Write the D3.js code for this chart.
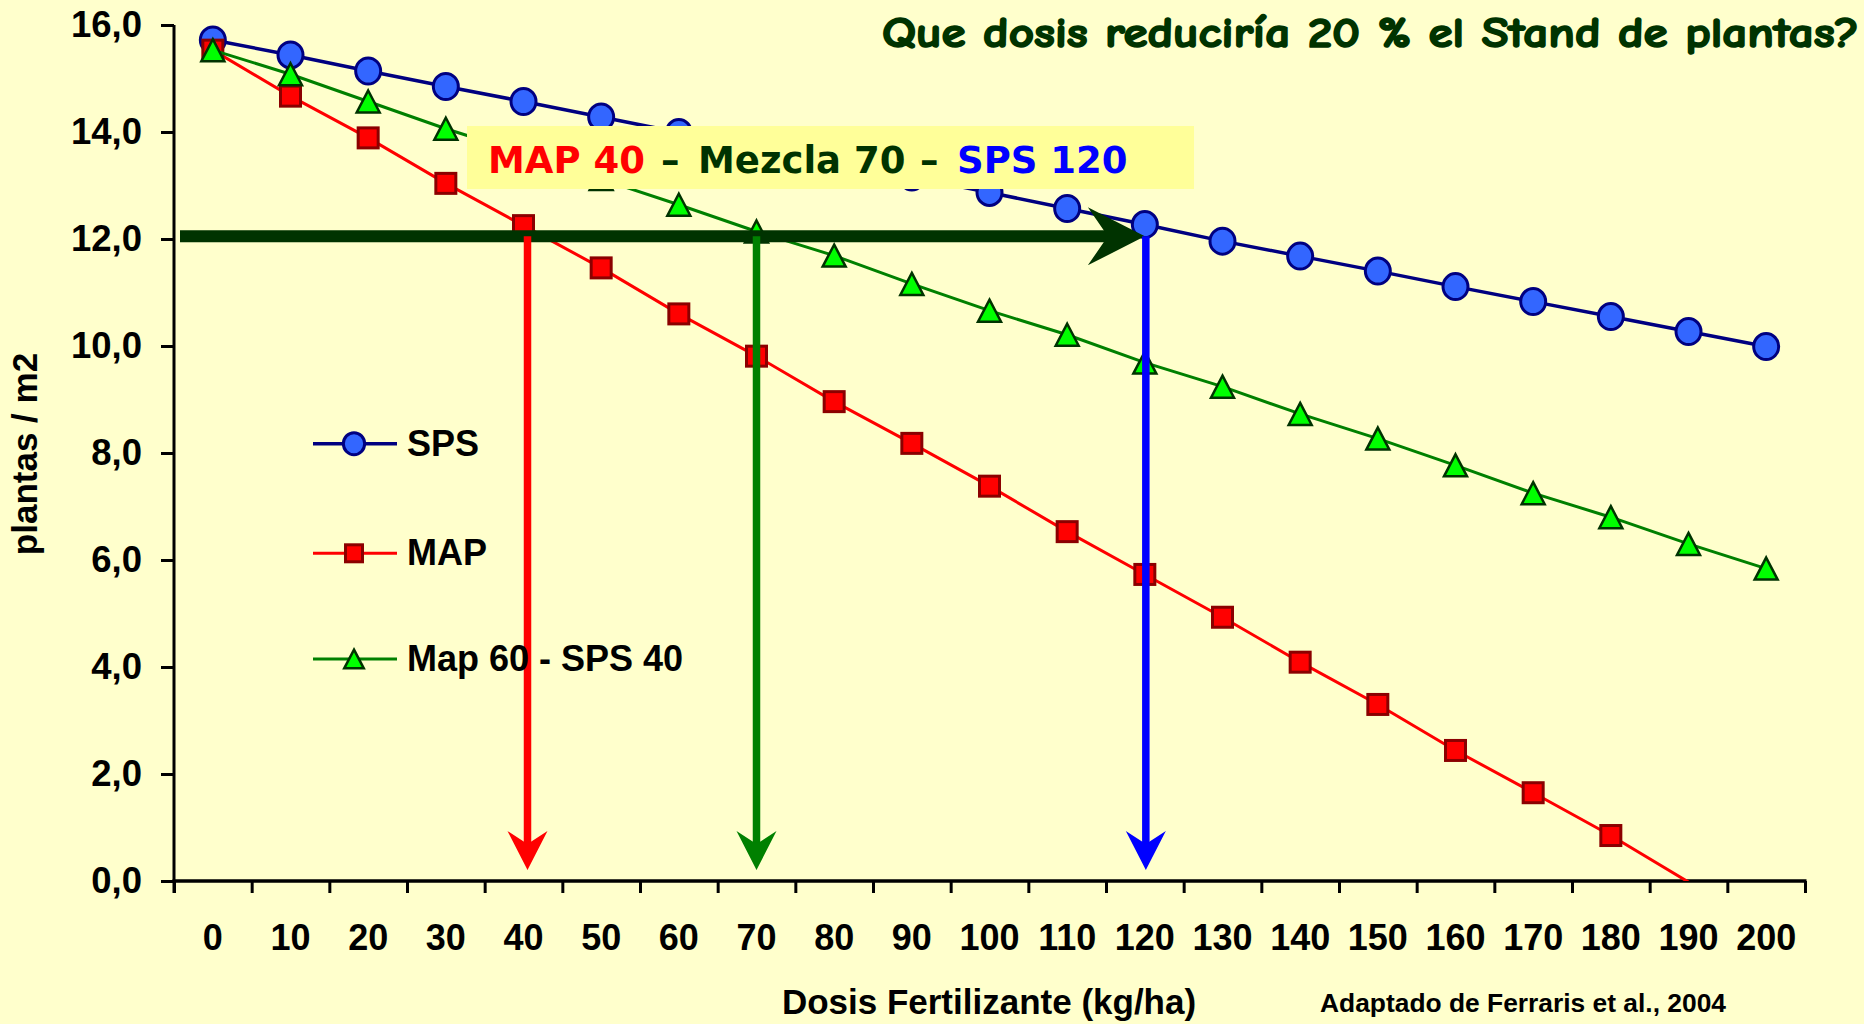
<!DOCTYPE html>
<html>
<head>
<meta charset="utf-8">
<script src="https://cdn.jsdelivr.net/npm/d3@7"></script>
<style>
  html, body { margin: 0; padding: 0; background: #FFFFCC; }
  svg { display: block; }
  text { font-family: "Liberation Sans", Arial, sans-serif; font-weight: bold; }
</style>
</head>
<body>
<svg id="chart" width="1864" height="1024"></svg>
<script>
// Dose of fertilizer (kg/ha) on the category axis
const doses = ["0","10","20","30","40","50","60","70","80","90","100","110","120","130","140","150","160","170","180","190","200"];

// Plant stand (plantas / m2) for each fertilizer source
const sps    = [15.72,15.44,15.14,14.85,14.57,14.28,13.99,13.71,13.43,13.16,12.87,12.57,12.27,11.96,11.68,11.40,11.11,10.83,10.55,10.27,9.99];
const map    = [15.53,14.67,13.89,13.04,12.25,11.46,10.60,9.81,8.96,8.18,7.38,6.53,5.73,4.93,4.09,3.30,2.44,1.65,0.85,-0.02,null];
const mezcla = [15.53,15.08,14.57,14.06,13.60,13.12,12.64,12.14,11.69,11.16,10.66,10.21,9.69,9.24,8.73,8.27,7.77,7.25,6.80,6.30,5.84];

const seriesNames = ["SPS", "MAP", "Map 60 - SPS 40"];
const yTicks = [0,2,4,6,8,10,12,14,16];

// Stand reduced by 20 % and the doses that reach it
const reducedStand = 12.05;
const answerDoses = ["40", "70", "120"];

const svg = d3.select("#chart");
const W = 1864, H = 1024;
const pL = 174, pR = 1805, pT = 25, pB = 881;

svg.append("rect").attr("width", W).attr("height", H).attr("fill", "#FFFFCC");

const x = d3.scaleBand().domain(doses).range([pL, pR]).padding(0);
const xc = d => x(d) + x.bandwidth() / 2;
const xEdge = d3.scaleLinear().domain([0, doses.length]).range([pL, pR]);
const y = d3.scaleLinear().domain([0, 16]).range([pB, pT]);

svg.append("defs").append("clipPath").attr("id", "plot")
  .append("rect").attr("x", pL).attr("y", pT - 20).attr("width", pR - pL + 20).attr("height", pB - pT + 20);

// Axes
const yAxis = svg.append("g").attr("transform", `translate(${pL},0)`)
  .call(d3.axisLeft(y).tickValues(yTicks).tickSize(13).tickPadding(19)
    .tickFormat(d => d3.format(".1f")(d).replace(".", ",")));
yAxis.select(".domain").remove();
yAxis.selectAll("line").attr("stroke", "#000").attr("stroke-width", 3);
yAxis.selectAll("text").attr("font-size", 36.5).attr("fill", "#000")
  .style("font-family", "'Liberation Sans', Arial, sans-serif").style("font-weight", "bold");

const xTickG = svg.append("g").attr("transform", `translate(0,${pB})`)
  .call(d3.axisBottom(xEdge).tickValues(d3.range(doses.length + 1)).tickSize(12).tickFormat(""));
xTickG.select(".domain").remove();
xTickG.selectAll("line").attr("stroke", "#000").attr("stroke-width", 3);

const xLab = svg.append("g").attr("transform", `translate(0,${pB})`)
  .call(d3.axisBottom(x).tickSize(0).tickPadding(43));
xLab.select(".domain").remove();
xLab.selectAll("text").attr("font-size", 36).attr("fill", "#000")
  .style("font-family", "'Liberation Sans', Arial, sans-serif").style("font-weight", "bold");

svg.append("line").attr("x1", pL).attr("x2", pL).attr("y1", pT).attr("y2", pB + 12)
  .attr("stroke", "#000").attr("stroke-width", 3);
svg.append("line").attr("x1", pL - 1.5).attr("x2", pR + 1.5).attr("y1", pB).attr("y2", pB)
  .attr("stroke", "#000").attr("stroke-width", 3.5);

// Series
const series = [
  { name: seriesNames[0], values: sps,    line: "#000080", lw: 3.5, shape: "circle",   fill: "#3366FF", stroke: "#000080" },
  { name: seriesNames[1], values: map,    line: "#FF0000", lw: 3,   shape: "square",   fill: "#FF0000", stroke: "#8B0000" },
  { name: seriesNames[2], values: mezcla, line: "#008000", lw: 3,   shape: "triangle", fill: "#00FF00", stroke: "#003300" }
];

function drawMarker(g, shape, cx, cy, s, fill, stroke) {
  if (shape === "circle") {
    g.append("ellipse").attr("cx", cx).attr("cy", cy).attr("rx", 12.5 * s).attr("ry", 13 * s)
      .attr("fill", fill).attr("stroke", stroke).attr("stroke-width", 3);
  } else if (shape === "square") {
    const h = 10 * s;
    g.append("rect").attr("x", cx - h).attr("y", cy - h).attr("width", 2 * h).attr("height", 2 * h)
      .attr("fill", fill).attr("stroke", stroke).attr("stroke-width", 3);
  } else {
    const hw = 11.5 * s, hh = 11 * s;
    g.append("path").attr("d", `M${cx},${cy - hh}L${cx + hw},${cy + hh}L${cx - hw},${cy + hh}Z`)
      .attr("fill", fill).attr("stroke", stroke).attr("stroke-width", 2.5).attr("stroke-linejoin", "miter");
  }
}

const plot = svg.append("g").attr("clip-path", "url(#plot)");
series.forEach(s => {
  const pts = s.values.map((v, i) => ({ d: doses[i], v })).filter(p => p.v !== null);
  plot.append("path").datum(pts)
    .attr("d", d3.line().x(p => xc(p.d)).y(p => y(p.v)))
    .attr("fill", "none").attr("stroke", s.line).attr("stroke-width", s.lw);
  const mg = plot.append("g");
  pts.filter(p => p.v >= 0).forEach(p => drawMarker(mg, s.shape, xc(p.d), y(p.v), 1, s.fill, s.stroke));
});

// Answer box
svg.append("rect").attr("x", 467).attr("y", 126).attr("width", 727).attr("height", 63).attr("fill", "#FFFF99");
const box = svg.append("text").attr("y", 173).attr("font-size", 37)
  .style("font-family", "'DejaVu Sans', Verdana, sans-serif").style("font-weight", "bold");
box.append("tspan").attr("x", 488).attr("fill", "#FF0000").text("MAP 40");
box.append("tspan").attr("x", 661).attr("fill", "#003300").text("–");
box.append("tspan").attr("x", 698).attr("fill", "#003300").text("Mezcla 70");
box.append("tspan").attr("x", 920).attr("fill", "#003300").text("–");
box.append("tspan").attr("x", 957).attr("fill", "#0000FF").text("SPS 120");

// Horizontal arrow at the reduced stand
const ya = y(reducedStand);
const tipX = xc(answerDoses[2]);
svg.append("line").attr("x1", pL + 6).attr("x2", tipX - 36).attr("y1", ya).attr("y2", ya)
  .attr("stroke", "#003300").attr("stroke-width", 12);
svg.append("path")
  .attr("d", `M${tipX},${ya}L${tipX - 57},${ya - 29}L${tipX - 37},${ya}L${tipX - 57},${ya + 29}Z`)
  .attr("fill", "#003300");

// Vertical arrows down to each dose
const vColors = ["#FF0000", "#008000", "#0000FF"];
const vOffsets = [4, 0, 1];
const tipY = 870;
answerDoses.forEach((d, i) => {
  const vx = xc(d) + vOffsets[i];
  svg.append("line").attr("x1", vx).attr("x2", vx).attr("y1", ya).attr("y2", tipY - 25)
    .attr("stroke", vColors[i]).attr("stroke-width", 7.5);
  svg.append("path")
    .attr("d", `M${vx},${tipY}L${vx - 20},${tipY - 39}L${vx},${tipY - 26}L${vx + 20},${tipY - 39}Z`)
    .attr("fill", vColors[i]);
});

// Legend
const legendY = [443.7, 553.3, 659];
series.forEach((s, i) => {
  const g = svg.append("g");
  g.append("line").attr("x1", 313).attr("x2", 397).attr("y1", legendY[i]).attr("y2", legendY[i])
    .attr("stroke", s.line).attr("stroke-width", s.lw);
  drawMarker(g, s.shape, 354, legendY[i], 0.85, s.fill, s.stroke);
  g.append("text").attr("x", 407).attr("y", legendY[i] + 12).attr("font-size", 36).attr("fill", "#000").text(s.name);
});

// Axis titles, heading and source
svg.append("text").attr("transform", "translate(37,454) rotate(-90)").attr("text-anchor", "middle")
  .attr("font-size", 35).attr("fill", "#000").text("plantas / m2");
svg.append("text").attr("x", 989).attr("y", 1014).attr("text-anchor", "middle")
  .attr("font-size", 35).attr("fill", "#000").text("Dosis Fertilizante (kg/ha)");
svg.append("text").attr("x", 1320).attr("y", 1012).attr("font-size", 25)
  .attr("textLength", 406).attr("lengthAdjust", "spacingAndGlyphs")
  .attr("fill", "#000").text("Adaptado de Ferraris et al., 2004");
svg.append("text").attr("x", 882).attr("y", 47).attr("font-size", 42)
  .attr("textLength", 977).attr("lengthAdjust", "spacingAndGlyphs")
  .style("font-family", "'Comic Sans MS', 'Comic Neue', 'DejaVu Sans', sans-serif")
  .attr("fill", "#003300").attr("stroke", "#003300").attr("stroke-width", 1.6)
  .attr("stroke-linejoin", "round").text("Que dosis reduciría 20 % el Stand de plantas?");
</script>
</body>
</html>
